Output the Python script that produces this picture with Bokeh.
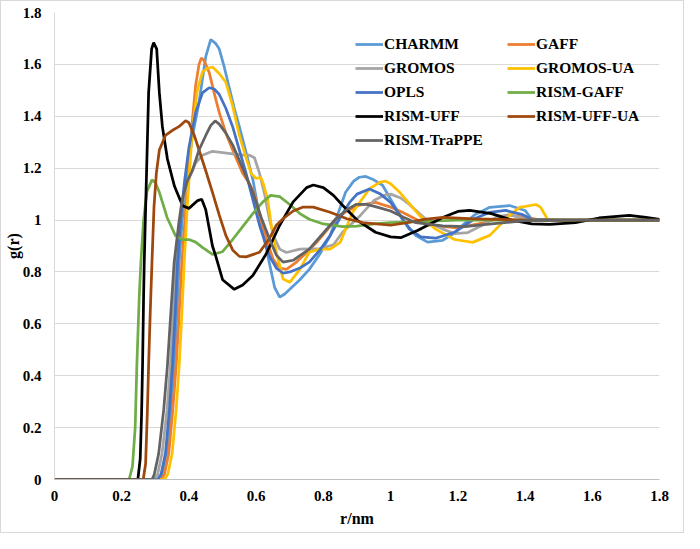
from bokeh.plotting import figure
from bokeh.models import Range1d, FixedTicker, Legend, LegendItem
from bokeh.embed import file_html
from bokeh.resources import INLINE

# ---------------- data ----------------
x_ticks = [0, 0.2, 0.4, 0.6, 0.8, 1.0, 1.2, 1.4, 1.6, 1.8]
x_tick_labels = ["0", "0.2", "0.4", "0.6", "0.8", "1", "1.2", "1.4", "1.6", "1.8"]
y_ticks = [0, 0.2, 0.4, 0.6, 0.8, 1.0, 1.2, 1.4, 1.6, 1.8]
y_tick_labels = ["0", "0.2", "0.4", "0.6", "0.8", "1", "1.2", "1.4", "1.6", "1.8"]

series_names = ["CHARMM", "GAFF", "GROMOS", "GROMOS-UA", "OPLS",
                "RISM-GAFF", "RISM-UFF", "RISM-UFF-UA", "RISM-TraPPE"]
series_colors = ["#5B9BD5", "#ED7D31", "#A5A5A5", "#FFC000", "#4472C4",
                 "#70AD47", "#000000", "#9E480E", "#636363"]

r_charmm = [0, 0.312, 0.322, 0.335, 0.347, 0.356, 0.364, 0.371, 0.38, 0.392, 0.41, 0.43,
            0.45, 0.465, 0.48, 0.49, 0.505, 0.52, 0.535, 0.55, 0.57, 0.59, 0.605, 0.62,
            0.64, 0.655, 0.67, 0.685, 0.70, 0.73, 0.758, 0.79, 0.82, 0.845, 0.866, 0.89,
            0.907, 0.926, 0.95, 0.976, 1.0, 1.035, 1.075, 1.11, 1.155, 1.19, 1.214, 1.25,
            1.295, 1.354, 1.40, 1.42, 1.5, 1.8]
g_charmm = [0, 0, 0.02, 0.1, 0.27, 0.44, 0.64, 0.837, 1.0, 1.15, 1.32, 1.453,
            1.63, 1.696, 1.68, 1.66, 1.59, 1.51, 1.43, 1.36, 1.26, 1.157, 1.05, 0.953,
            0.83, 0.74, 0.703, 0.715, 0.733, 0.77, 0.81, 0.87, 0.94, 1.03, 1.107, 1.15,
            1.165, 1.168, 1.155, 1.134, 1.08, 1.003, 0.94, 0.915, 0.922, 0.95, 0.98, 1.02,
            1.049, 1.056, 1.037, 1.003, 1.0, 1.0]

r_gaff = [0, 0.317, 0.327, 0.34, 0.352, 0.362, 0.371, 0.379, 0.388, 0.40, 0.41, 0.42,
          0.43, 0.437, 0.445, 0.46, 0.475, 0.49, 0.51, 0.53, 0.56, 0.58, 0.595, 0.61,
          0.63, 0.65, 0.67, 0.69, 0.72, 0.75, 0.78, 0.81, 0.836, 0.87, 0.907, 0.955,
          1.0, 1.035, 1.08, 1.116, 1.2, 1.28, 1.35, 1.4, 1.45, 1.8]
g_gaff = [0, 0, 0.02, 0.1, 0.27, 0.44, 0.64, 0.837, 1.0, 1.2, 1.38, 1.52,
          1.6, 1.625, 1.615, 1.57, 1.49, 1.415, 1.335, 1.27, 1.18, 1.14, 1.1, 1.02,
          0.93, 0.85, 0.815, 0.81, 0.838, 0.875, 0.914, 0.96, 1.003, 1.035, 1.057, 1.068,
          1.05, 1.03, 1.0, 0.98, 0.97, 0.99, 1.02, 1.01, 1.0, 1.0]

r_gromos = [0, 0.297, 0.307, 0.32, 0.335, 0.345, 0.353, 0.361, 0.371, 0.385, 0.40, 0.42,
            0.44, 0.47, 0.50, 0.53, 0.56, 0.58, 0.595, 0.61, 0.625, 0.64, 0.655, 0.67,
            0.69, 0.73, 0.79, 0.83, 0.857, 0.91, 0.95, 0.98, 1.0, 1.03, 1.056, 1.09,
            1.116, 1.155, 1.19, 1.23, 1.28, 1.32, 1.36, 1.4, 1.45, 1.8]
g_gromos = [0, 0, 0.02, 0.1, 0.27, 0.44, 0.64, 0.837, 0.98, 1.09, 1.16, 1.22,
            1.25, 1.265, 1.26, 1.255, 1.25, 1.25, 1.24, 1.18, 1.1, 1.0, 0.93, 0.888,
            0.875, 0.888, 0.89, 0.905, 0.953, 1.018, 1.075, 1.095, 1.1, 1.085, 1.06, 1.02,
            0.99, 0.965, 0.948, 0.952, 0.985, 1.015, 1.018, 1.005, 1.0, 1.0]

r_gromos_ua = [0, 0.327, 0.337, 0.35, 0.362, 0.371, 0.379, 0.386, 0.395, 0.41, 0.425, 0.44,
               0.455, 0.47, 0.49, 0.51, 0.53, 0.55, 0.57, 0.585, 0.60, 0.613, 0.62, 0.634,
               0.645, 0.66, 0.68, 0.70, 0.73, 0.758, 0.79, 0.82, 0.85, 0.887, 0.937, 0.967,
               0.985, 1.0, 1.027, 1.086, 1.134, 1.19, 1.244, 1.295, 1.354, 1.384, 1.432,
               1.446, 1.467, 1.5, 1.8]
g_gromos_ua = [0, 0, 0.02, 0.1, 0.27, 0.44, 0.64, 0.837, 1.05, 1.35, 1.5, 1.57,
               1.585, 1.59, 1.565, 1.53, 1.44, 1.326, 1.24, 1.18, 1.16, 1.165, 1.145, 1.08,
               0.98, 0.876, 0.773, 0.76, 0.81, 0.876, 0.888, 0.888, 0.914, 1.03, 1.12, 1.145,
               1.15, 1.14, 1.107, 1.018, 0.965, 0.925, 0.914, 0.941, 1.018, 1.049, 1.06,
               1.05, 1.003, 1.0, 1.0]

r_opls = [0, 0.307, 0.317, 0.33, 0.342, 0.351, 0.359, 0.366, 0.375, 0.387, 0.40, 0.42,
          0.44, 0.46, 0.475, 0.49, 0.51, 0.53, 0.55, 0.57, 0.59, 0.61, 0.625, 0.64,
          0.66, 0.68, 0.70, 0.73, 0.758, 0.79, 0.82, 0.85, 0.878, 0.90, 0.937, 0.97,
          1.0, 1.03, 1.056, 1.09, 1.134, 1.19, 1.25, 1.295, 1.342, 1.39, 1.42, 1.5, 1.8]
g_opls = [0, 0, 0.02, 0.1, 0.27, 0.44, 0.64, 0.837, 1.0, 1.15, 1.28, 1.415,
          1.49, 1.51, 1.505, 1.485, 1.43, 1.36, 1.27, 1.18, 1.08, 0.98, 0.92, 0.86,
          0.815, 0.795, 0.80, 0.815, 0.838, 0.885, 0.94, 1.01, 1.068, 1.1, 1.12, 1.1,
          1.068, 1.015, 0.965, 0.935, 0.93, 0.953, 1.005, 1.03, 1.037, 1.022, 1.003, 1.0, 1.0]

r_rism_gaff = [0, 0.222, 0.232, 0.240, 0.245, 0.252, 0.257, 0.265, 0.275, 0.29, 0.30, 0.312,
               0.335, 0.36, 0.38, 0.40, 0.42, 0.44, 0.47, 0.50, 0.53, 0.56, 0.59, 0.62,
               0.643, 0.67, 0.70, 0.73, 0.758, 0.80, 0.857, 0.90, 0.95, 1.0, 1.1, 1.2, 1.8]
g_rism_gaff = [0, 0, 0.05, 0.2, 0.44, 0.7, 0.837, 1.0, 1.11, 1.155, 1.145, 1.107,
               1.01, 0.94, 0.925, 0.925, 0.915, 0.895, 0.868, 0.878, 0.925, 0.975, 1.025, 1.07,
               1.095, 1.09, 1.06, 1.025, 1.003, 0.985, 0.975, 0.977, 0.985, 0.99, 0.995, 1.0, 1.0]

r_rism_uff = [0, 0.248, 0.255, 0.259, 0.262, 0.265, 0.267, 0.271, 0.28, 0.289, 0.295, 0.304,
              0.312, 0.321, 0.336, 0.357, 0.381, 0.40, 0.426, 0.438, 0.45, 0.47, 0.48,
              0.50, 0.535, 0.56, 0.59, 0.63, 0.67, 0.71, 0.75, 0.77, 0.80, 0.83, 0.857,
              0.90, 0.955, 1.0, 1.03, 1.08, 1.155, 1.2, 1.235, 1.3, 1.36, 1.42, 1.473,
              1.55, 1.62, 1.71, 1.76, 1.8]
g_rism_uff = [0, 0, 0.08, 0.25, 0.44, 0.7, 0.837, 1.04, 1.49, 1.66, 1.684, 1.66,
              1.49, 1.36, 1.235, 1.13, 1.055, 1.045, 1.075, 1.08, 1.04, 0.90, 0.86,
              0.77, 0.733, 0.75, 0.786, 0.87, 0.98, 1.07, 1.125, 1.135, 1.125, 1.095, 1.057,
              1.0, 0.953, 0.935, 0.932, 0.96, 1.01, 1.033, 1.037, 1.025, 1.0, 0.985, 0.983,
              0.99, 1.008, 1.018, 1.01, 1.003]

r_rism_uff_ua = [0, 0.264, 0.271, 0.276, 0.28, 0.285, 0.29, 0.296, 0.303, 0.312, 0.33, 0.35,
                 0.37, 0.39, 0.40, 0.415, 0.43, 0.45, 0.47, 0.49, 0.51, 0.53, 0.55, 0.57,
                 0.61, 0.64, 0.66, 0.68, 0.71, 0.74, 0.77, 0.82, 0.87, 0.917, 1.0, 1.05,
                 1.1, 1.155, 1.25, 1.4, 1.8]
g_rism_uff_ua = [0, 0, 0.06, 0.25, 0.44, 0.65, 0.837, 1.05, 1.18, 1.27, 1.326, 1.345,
                 1.36, 1.383, 1.375, 1.33, 1.27, 1.19, 1.107, 1.02, 0.94, 0.885, 0.86, 0.858,
                 0.876, 0.93, 0.98, 1.005, 1.035, 1.05, 1.05, 1.03, 1.005, 0.99, 0.98, 0.99,
                 1.003, 1.01, 1.005, 1.0, 1.0]

r_rism_trappe = [0, 0.29, 0.297, 0.31, 0.325, 0.336, 0.346, 0.356, 0.37, 0.38, 0.395, 0.41,
                 0.43, 0.45, 0.465, 0.478, 0.49, 0.51, 0.53, 0.56, 0.59, 0.615, 0.64, 0.66,
                 0.68, 0.71, 0.758, 0.80, 0.836, 0.87, 0.897, 0.93, 0.96, 1.0, 1.04, 1.075,
                 1.155, 1.22, 1.3, 1.4, 1.5, 1.8]
g_rism_trappe = [0, 0, 0.02, 0.1, 0.27, 0.44, 0.64, 0.837, 0.99, 1.08, 1.15, 1.19,
                 1.27, 1.326, 1.365, 1.382, 1.37, 1.335, 1.29, 1.2, 1.107, 1.01, 0.926, 0.865,
                 0.838, 0.845, 0.888, 0.95, 1.003, 1.04, 1.06, 1.06, 1.05, 1.035, 1.01, 0.99,
                 0.978, 0.975, 0.985, 0.998, 1.0, 1.0]

series_r = [r_charmm, r_gaff, r_gromos, r_gromos_ua, r_opls,
            r_rism_gaff, r_rism_uff, r_rism_uff_ua, r_rism_trappe]
series_g = [g_charmm, g_gaff, g_gromos, g_gromos_ua, g_opls,
            g_rism_gaff, g_rism_uff, g_rism_uff_ua, g_rism_trappe]

legend_col1 = ["CHARMM", "GROMOS", "OPLS", "RISM-UFF", "RISM-TraPPE"]
legend_col2 = ["GAFF", "GROMOS-UA", "RISM-GAFF", "RISM-UFF-UA"]

# ---------------- figure ----------------
FONT = "Liberation Serif"

p = figure(width=684, height=533, output_backend="svg", toolbar_location=None,
           x_range=Range1d(0, 1.8), y_range=Range1d(0, 1.8),
           min_border_left=53, min_border_right=26, min_border_top=11, min_border_bottom=55)
p.styles = {"border": "1px solid #d9d9d9"}
p.outline_line_color = None
p.background_fill_color = "white"
p.border_fill_color = "white"

p.xgrid.grid_line_color = None
p.ygrid.grid_line_color = "#d9d9d9"
p.ygrid.grid_line_width = 1

p.xaxis.ticker = FixedTicker(ticks=x_ticks)
p.yaxis.ticker = FixedTicker(ticks=y_ticks)
p.xaxis.major_label_overrides = dict(zip(x_ticks, x_tick_labels))
p.yaxis.major_label_overrides = dict(zip(y_ticks, y_tick_labels))

for ax in (p.xaxis, p.yaxis):
    ax.major_tick_line_color = None
    ax.minor_tick_line_color = None
    ax.major_tick_out = 0
    ax.major_tick_in = 0
    ax.minor_tick_out = 0
    ax.minor_tick_in = 0
    ax.major_label_text_font = FONT
    ax.major_label_text_font_style = "bold"
    ax.major_label_text_font_size = "15px"
    ax.major_label_text_color = "black"
    ax.axis_label_text_font = FONT
    ax.axis_label_text_font_style = "bold"
    ax.axis_label_text_font_size = "16px"
    ax.axis_label_text_color = "black"

p.xaxis.axis_line_color = "#bfbfbf"
p.yaxis.axis_line_color = "#d9d9d9"
p.xaxis.major_label_standoff = 11
p.yaxis.major_label_standoff = 13
p.xaxis.axis_label = "r/nm"
p.yaxis.axis_label = "g(r)"
p.xaxis.axis_label_standoff = 6
p.yaxis.axis_label_standoff = -2

renderers = {}
for name, color, rr, gg in zip(series_names, series_colors, series_r, series_g):
    renderers[name] = p.line(rr, gg, line_color=color, line_width=2.75)


def make_legend(names, loc):
    leg = Legend(items=[LegendItem(label=n, renderers=[renderers[n]]) for n in names],
                 location=loc, orientation="vertical")
    leg.border_line_color = None
    leg.background_fill_alpha = 0
    leg.padding = 0
    leg.margin = 0
    leg.spacing = 4
    leg.glyph_width = 28
    leg.glyph_height = 20
    leg.label_height = 20
    leg.label_standoff = 1
    leg.label_text_font = FONT
    leg.label_text_font_style = "bold"
    leg.label_text_font_size = "15.5px"
    leg.label_text_color = "black"
    return leg


p.add_layout(make_legend(legend_col1, (301, 329)))
p.add_layout(make_legend(legend_col2, (453, 353)))

open("out.html", "w").write(file_html(p, INLINE))
